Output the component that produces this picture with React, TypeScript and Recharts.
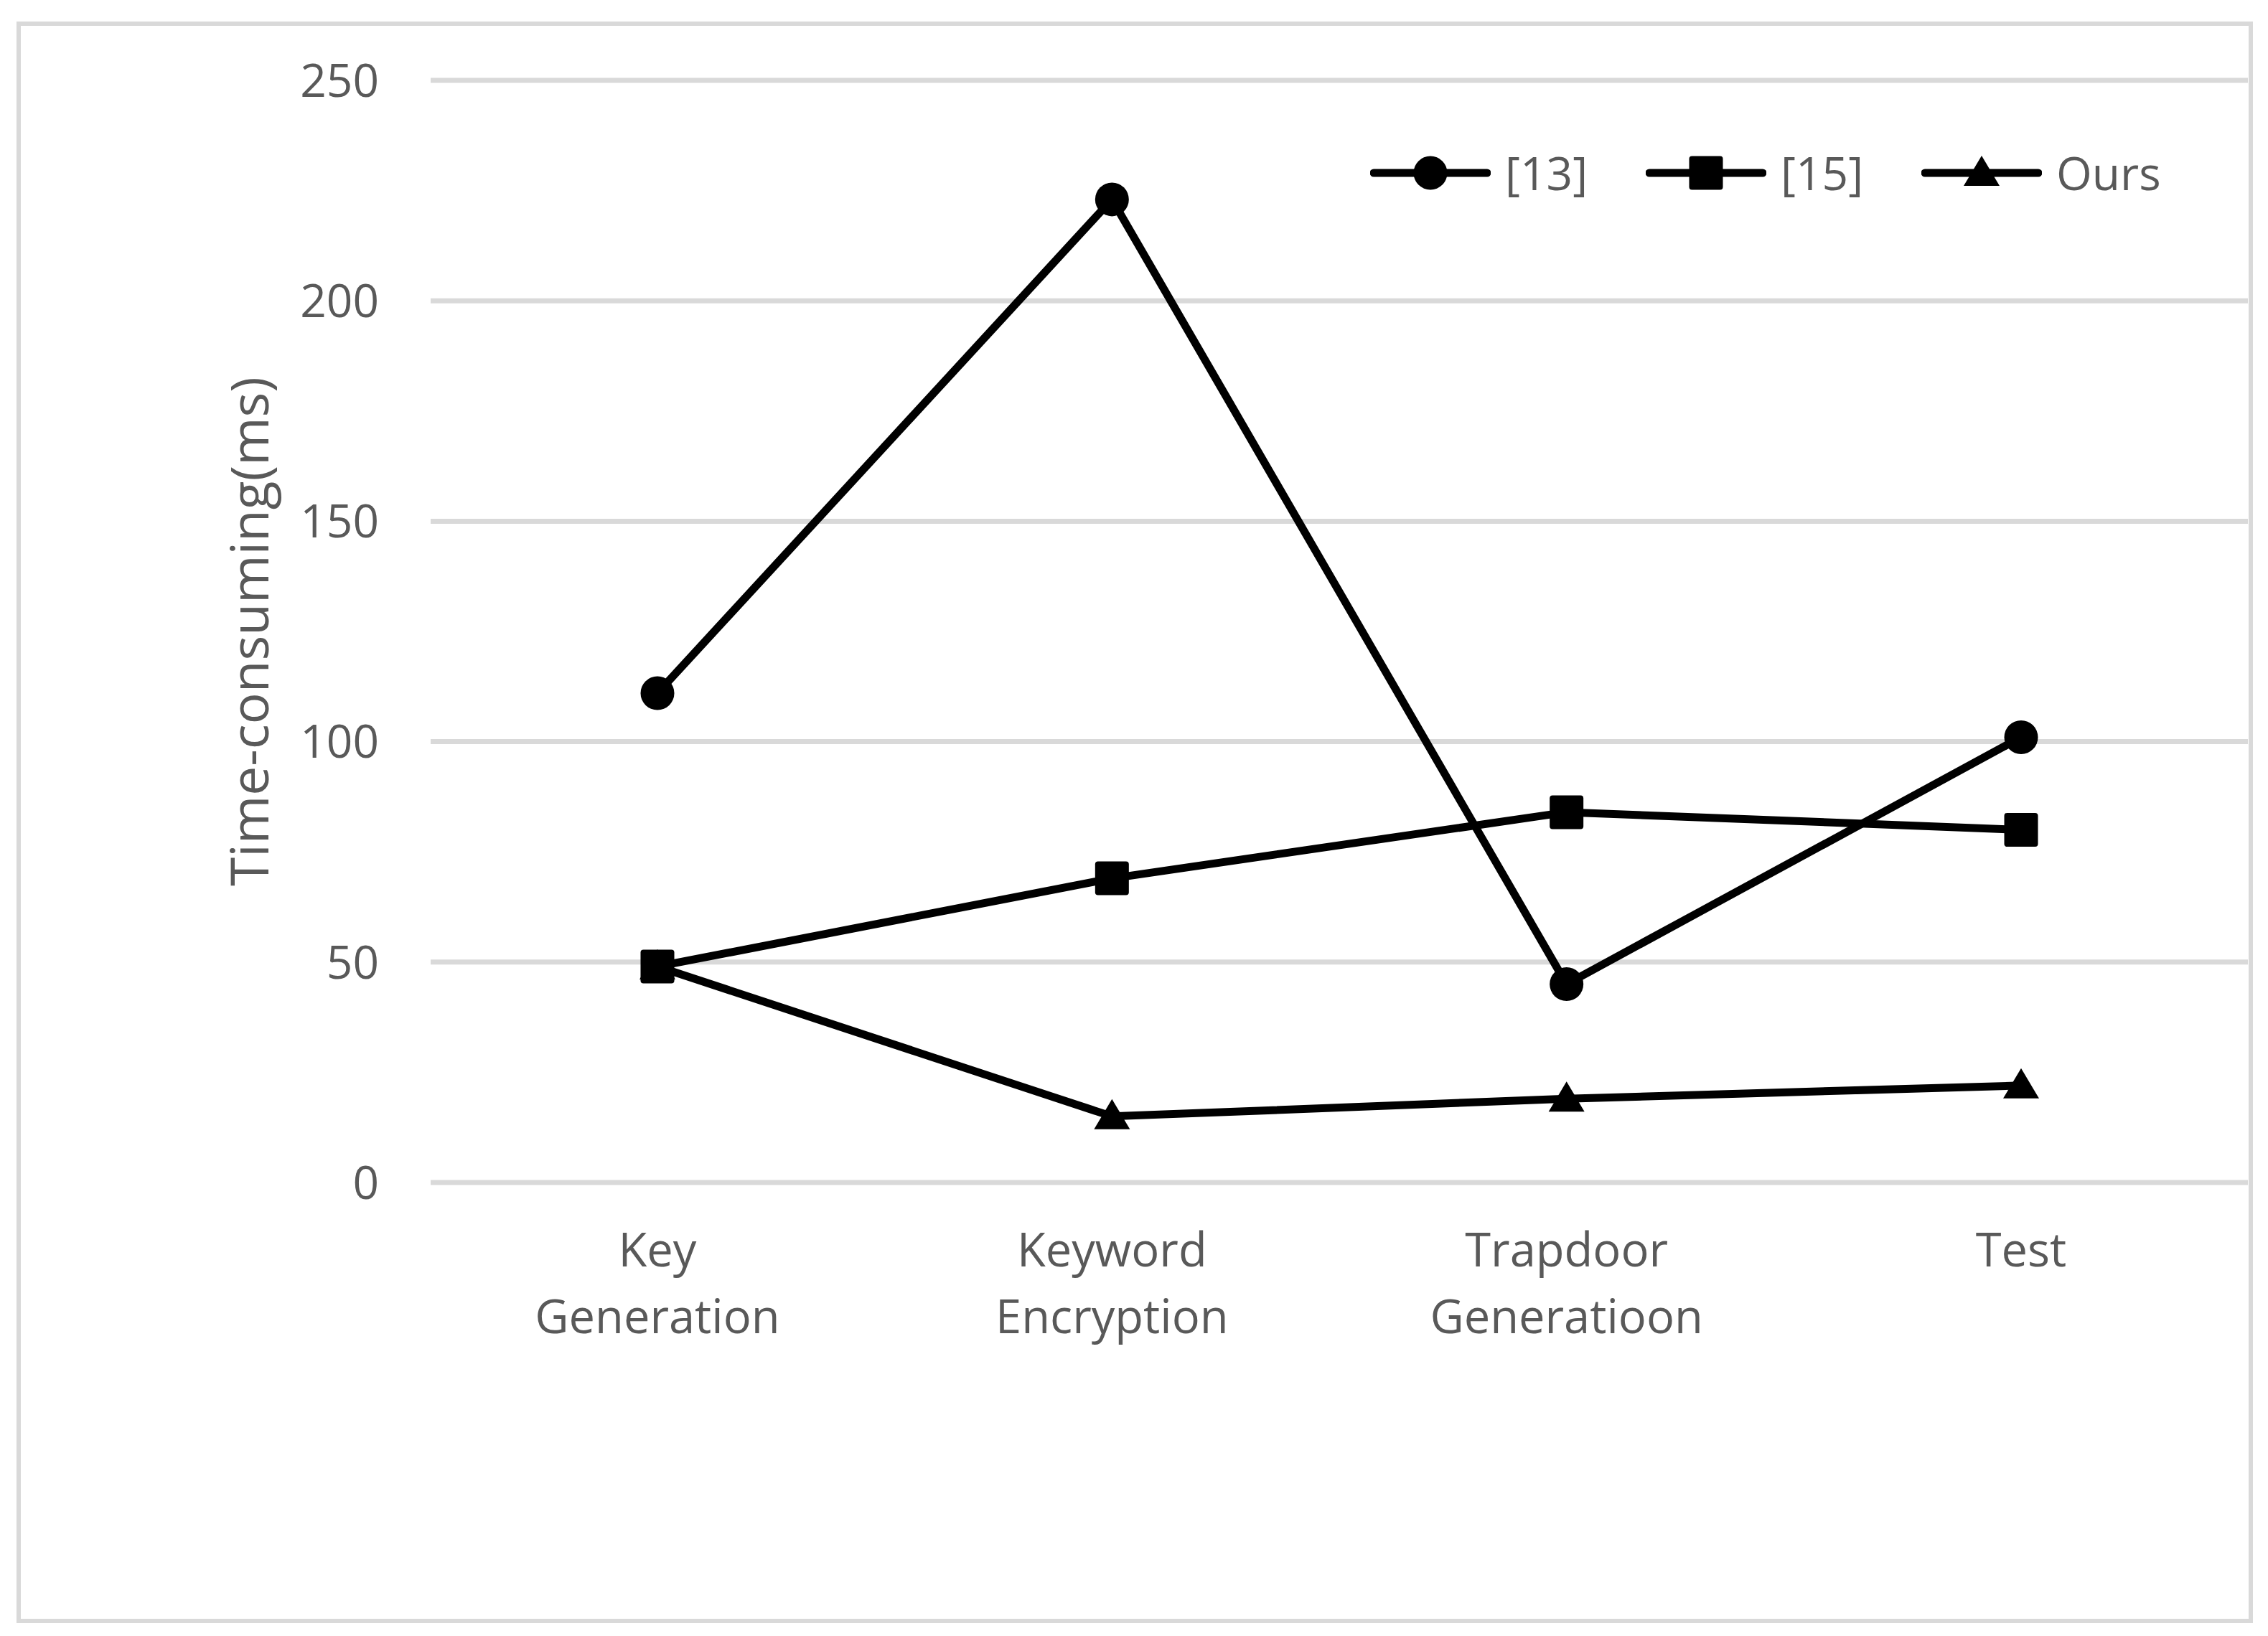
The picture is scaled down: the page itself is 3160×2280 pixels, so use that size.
import React from "react";
import { LineChart, Line, XAxis, YAxis, CartesianGrid, Legend, Label } from "recharts";

const categories = ["Key\nGeneration", "Keyword\nEncryption", "Trapdoor\nGeneratioon", "Test"];
const ref13 = [111, 223, 45, 101];
const ref15 = [49, 69, 84, 80];
const ours = [49, 15, 19, 22];
const yTicks = [0, 50, 100, 150, 200, 250];
const legendOrder = ["[13]", "[15]", "Ours"];

const data = categories.map((c, i) => ({
  category: c,
  ref13: ref13[i],
  ref15: ref15[i],
  ours: ours[i],
}));

const FONT = "'Open Sans', 'Noto Sans', sans-serif";
const TEXT = "#595959";
const GRID = "#d9d9d9";

const CircleDot = (p: any) => <circle key={p.key} cx={p.cx} cy={p.cy} r={23.5} fill="#000" />;
const SquareDot = (p: any) => (
  <rect key={p.key} x={p.cx - 23.5} y={p.cy - 23.5} width={47} height={47} rx={4} fill="#000" />
);
const TriangleDot = (p: any) => (
  <polygon
    key={p.key}
    points={`${p.cx},${p.cy - 24} ${p.cx - 25},${p.cy + 18} ${p.cx + 25},${p.cy + 18}`}
    fill="#000"
  />
);

const markerFor: Record<string, (p: any) => React.ReactElement> = {
  "[13]": CircleDot,
  "[15]": SquareDot,
  Ours: TriangleDot,
};

function CategoryTick({ x, y, payload }: any) {
  const lines = String(payload.value).split("\n");
  return (
    <text textAnchor="middle" fill={TEXT} fontSize={65} fontFamily={FONT}>
      {lines.map((l, i) => (
        <tspan key={i} x={x} y={y + 117 + i * 93}>
          {l}
        </tspan>
      ))}
    </text>
  );
}

function LegendContent({ payload }: any) {
  const items = [...(payload || [])].sort(
    (a: any, b: any) => legendOrder.indexOf(a.value) - legendOrder.indexOf(b.value)
  );
  return (
    <div style={{ display: "flex", fontFamily: FONT, fontSize: 64, color: TEXT }}>
      {items.map((e: any) => {
        const Marker = markerFor[e.value];
        return (
          <div key={e.value} style={{ width: 384, display: "flex", alignItems: "center" }}>
            <svg width={168} height={60}>
              <line x1={5} y1={30} x2={163} y2={30} stroke="#000" strokeWidth={11} strokeLinecap="round" />
              <Marker cx={84} cy={30} />
            </svg>
            <span style={{ marginLeft: 20 }}>{e.value}</span>
          </div>
        );
      })}
    </div>
  );
}

export default function App() {
  return (
    <div style={{ position: "absolute", left: 0, top: 0, width: 3160, height: 2280, background: "#fff" }}>
      <div
        style={{
          position: "absolute",
          left: 23,
          top: 30,
          width: 3116,
          height: 2232,
          border: `6px solid ${GRID}`,
          boxSizing: "border-box",
        }}
      />
      <div style={{ position: "absolute", left: 0, top: 0 }}>
        <LineChart
          width={3160}
          height={2280}
          data={data}
          margin={{ top: 112, right: 28, left: 0, bottom: 432 }}
        >
          <CartesianGrid vertical={false} stroke={GRID} strokeWidth={7} />
          <XAxis
            dataKey="category"
            axisLine={false}
            tickLine={false}
            tickSize={0}
            tickMargin={0}
            height={200}
            interval={0}
            padding={{ left: 316, right: 316 }}
            tick={<CategoryTick />}
          />
          <YAxis
            width={600}
            domain={[0, 250]}
            ticks={yTicks}
            axisLine={false}
            tickLine={false}
            tickSize={0}
            tickMargin={72}
            tick={{ fill: TEXT, fontSize: 64, fontFamily: FONT }}
          >
            <Label
              content={({ viewBox }: any) => {
                const cx = viewBox.x + 345;
                const cy = viewBox.y + viewBox.height / 2;
                return (
                  <text
                    x={cx}
                    y={cy}
                    transform={`rotate(-90, ${cx}, ${cy})`}
                    textAnchor="middle"
                    dominantBaseline="central"
                    fill={TEXT}
                    fontSize={73}
                    fontFamily={FONT}
                  >
                    Time-consuming(ms)
                  </text>
                );
              }}
            />
          </YAxis>
          <Legend
            verticalAlign="top"
            content={<LegendContent />}
            wrapperStyle={{ top: 197, left: 1909, width: 1200, height: 0, overflow: "visible" }}
          />
          <Line
            dataKey="ref13"
            name="[13]"
            stroke="#000"
            strokeWidth={11}
            dot={CircleDot}
            activeDot={false}
            isAnimationActive={false}
          />
          <Line
            dataKey="ref15"
            name="[15]"
            stroke="#000"
            strokeWidth={11}
            dot={SquareDot}
            activeDot={false}
            isAnimationActive={false}
          />
          <Line
            dataKey="ours"
            name="Ours"
            stroke="#000"
            strokeWidth={11}
            dot={TriangleDot}
            activeDot={false}
            isAnimationActive={false}
          />
        </LineChart>
      </div>
    </div>
  );
}
